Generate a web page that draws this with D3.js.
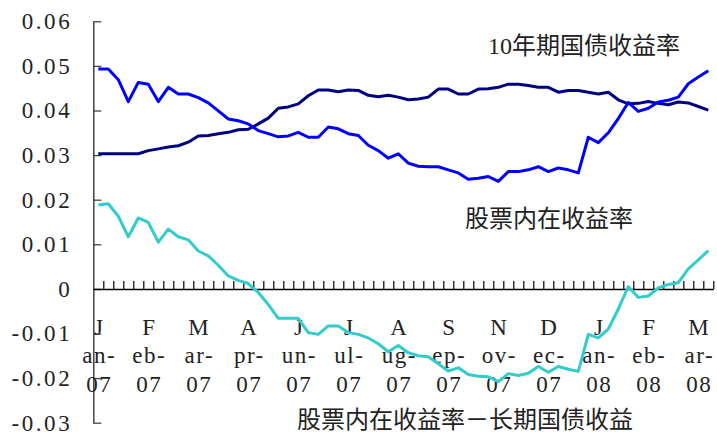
<!DOCTYPE html>
<html>
<head>
<meta charset="utf-8">
<script src="https://cdn.jsdelivr.net/npm/d3@7"></script>
<style>
  html, body { margin: 0; padding: 0; background: #fff; }
  text { fill: #222; }
</style>
</head>
<body>
<div class="d3-canvas"></div>
<script>
const WIDTH = 717;
const HEIGHT = 432;

// Weekly observations, Jan-07 .. Mar-08 (62 weeks)
const bondYield = [
  0.0303, 0.0303, 0.0303, 0.0303, 0.0303, 0.0310, 0.0314, 0.0318, 0.0321, 0.0329,
  0.0343, 0.0344, 0.0348, 0.0351, 0.0357, 0.0358, 0.0370, 0.0383, 0.0405, 0.0408,
  0.0415, 0.0433, 0.0446, 0.0446, 0.0442, 0.0446, 0.0445, 0.0434, 0.0431, 0.0434,
  0.0430, 0.0424, 0.0426, 0.0430, 0.0448, 0.0448, 0.0437, 0.0437, 0.0448, 0.0449,
  0.0452, 0.0459, 0.0459, 0.0456, 0.0452, 0.0452, 0.0441, 0.0445, 0.0445, 0.0441,
  0.0437, 0.0441, 0.0424, 0.0415, 0.0416, 0.0420, 0.0416, 0.0413, 0.0419, 0.0417,
  0.0409, 0.0401
];
const stockYield = [
  0.0493, 0.0493, 0.0469, 0.0420, 0.0463, 0.0459, 0.0420, 0.0452, 0.0437, 0.0437,
  0.0429, 0.0417, 0.0399, 0.0381, 0.0377, 0.0370, 0.0355, 0.0348, 0.0341, 0.0343,
  0.0351, 0.0340, 0.0340, 0.0363, 0.0359, 0.0348, 0.0344, 0.0322, 0.0310, 0.0293,
  0.0303, 0.0282, 0.0275, 0.0274, 0.0274, 0.0267, 0.0260, 0.0246, 0.0248, 0.0252,
  0.0241, 0.0263, 0.0263, 0.0267, 0.0274, 0.0263, 0.0271, 0.0267, 0.0260, 0.0340,
  0.0328, 0.0350, 0.0382, 0.0418, 0.0398, 0.0405, 0.0419, 0.0423, 0.0430, 0.0460,
  0.0475, 0.0489
];
const spread = [
  0.0188, 0.0191, 0.0163, 0.0117, 0.0159, 0.0149, 0.0105, 0.0134, 0.0117, 0.0110,
  0.0085, 0.0074, 0.0053, 0.0029, 0.0019, 0.0012, -0.0008, -0.0035, -0.0066, -0.0066,
  -0.0066, -0.0098, -0.0102, -0.0083, -0.0083, -0.0098, -0.0102, -0.0110, -0.0123, -0.0141,
  -0.0127, -0.0143, -0.0150, -0.0152, -0.0168, -0.0184, -0.0177, -0.0192, -0.0196, -0.0197,
  -0.0208, -0.0190, -0.0194, -0.0189, -0.0174, -0.0187, -0.0174, -0.0180, -0.0185, -0.0102,
  -0.0110, -0.0090, -0.0045, 0.0005, -0.0019, -0.0016, 0.0002, 0.0010, 0.0014, 0.0045,
  0.0065, 0.0086
];

// Category labels shown on every 5th week
const labelIndex = [0, 5, 10, 15, 20, 25, 30, 35, 40, 45, 50, 55, 60];
const labelText = ['Jan-07', 'Feb-07', 'Mar-07', 'Apr-07', 'Jun-07', 'Jul-07', 'Aug-07',
  'Sep-07', 'Nov-07', 'Dec-07', 'Jan-08', 'Feb-08', 'Mar-08'];
const yTicks = [-0.03, -0.02, -0.01, 0, 0.01, 0.02, 0.03, 0.04, 0.05, 0.06];

const bondName = '10年期国债收益率';
const stockName = '股票内在收益率';
const spreadName = '股票内在收益率－长期国债收益';

const margin = {top: 21.3, right: 3.7, bottom: 9.3, left: 93.3};
const chartWidth = WIDTH - margin.left - margin.right;
const chartHeight = HEIGHT - margin.top - margin.bottom;

const LATIN = '"Liberation Serif", "DejaVu Serif", serif';
const CJK = '"Liberation Serif", "Noto Sans CJK SC", sans-serif';

const svg = d3.select('.d3-canvas')
  .append('svg')
    .attr('width', WIDTH)
    .attr('height', HEIGHT);

const chart = svg.append('g')
  .attr('transform', `translate(${margin.left}, ${margin.top})`);

// Scales
const n = bondYield.length;
const x = d3.scaleBand()
  .domain(d3.range(n))
  .range([0, chartWidth])
  .padding(0);
const xEdge = d3.scaleLinear()
  .domain([0, n])
  .range([0, chartWidth]);
const y = d3.scaleLinear()
  .domain([-0.03, 0.06])
  .range([chartHeight, 0]);

const cx = i => x(i) + x.bandwidth() / 2;

// Y axis, ticks pointing inward, labels on the left
const yAxis = d3.axisLeft(y)
  .tickValues(yTicks)
  .tickSizeInner(-8)
  .tickSizeOuter(0)
  .tickPadding(21)
  .tickFormat(d => d === 0 ? '0' : d.toFixed(2));
const yAxisGroup = chart.append('g')
  .call(yAxis)
  .attr('font-family', null)
  .attr('font-size', null);
yAxisGroup.select('.domain').attr('stroke', '#444').attr('stroke-width', 1.5);
yAxisGroup.selectAll('.tick line').attr('stroke', '#444').attr('stroke-width', 1.3);
yAxisGroup.selectAll('.tick text')
  .style('font-family', LATIN)
  .style('font-size', '23px')
  .attr('letter-spacing', 2.6)
  .attr('fill', '#222')
  .attr('dy', '0.32em');

// X axis along zero, tick marks between the weeks
const xAxis = d3.axisTop(xEdge)
  .tickValues(d3.range(1, n + 1))
  .tickSizeInner(8)
  .tickSizeOuter(0)
  .tickFormat('');
const xAxisGroup = chart.append('g')
  .attr('transform', `translate(0, ${y(0)})`)
  .call(xAxis);
xAxisGroup.select('.domain').attr('stroke', '#000').attr('stroke-width', 1.5);
xAxisGroup.selectAll('.tick line').attr('stroke', '#000').attr('stroke-width', 1.2);

// Three-line category labels
const labels = chart.append('g')
  .style('font-family', LATIN)
  .style('font-size', '23px')
  .attr('text-anchor', 'middle')
  .attr('letter-spacing', 1.5)
  .selectAll('text')
  .data(labelIndex.map((k, i) => ({k, t: labelText[i]})))
  .enter()
  .append('text')
    .attr('transform', d => `translate(${cx(d.k) + 1}, 0)`);
labels.append('tspan').attr('x', 0).attr('y', 335 - margin.top).text(d => d.t.slice(0, 1));
labels.append('tspan').attr('x', 0).attr('y', 363 - margin.top).text(d => d.t.slice(1, 3) + '-');
labels.append('tspan').attr('x', 0).attr('y', 392 - margin.top).text(d => d.t.slice(4));

// Lines
const line = d3.line()
  .x((d, i) => cx(i))
  .y(d => y(d));

const series = [
  {values: bondYield, color: '#000080'},
  {values: stockYield, color: '#0000FF'},
  {values: spread, color: '#33CCCC'}
];
chart.selectAll('path.series')
  .data(series)
  .enter()
  .append('path')
    .attr('class', 'series')
    .attr('fill', 'none')
    .attr('stroke', d => d.color)
    .attr('stroke-width', 3)
    .attr('stroke-linejoin', 'round')
    .attr('d', d => line(d.values));

// Series annotations
const notes = [
  {text: bondName, x: 488, y: 54},
  {text: stockName, x: 465, y: 227},
  {text: spreadName, x: 297, y: 428}
];
svg.selectAll('text.note')
  .data(notes)
  .enter()
  .append('text')
    .attr('class', 'note')
    .attr('x', d => d.x)
    .attr('y', d => d.y)
    .style('font-family', CJK)
    .style('font-size', '24px')
    .attr('fill', '#222')
    .text(d => d.text);
</script>
</body>
</html>
